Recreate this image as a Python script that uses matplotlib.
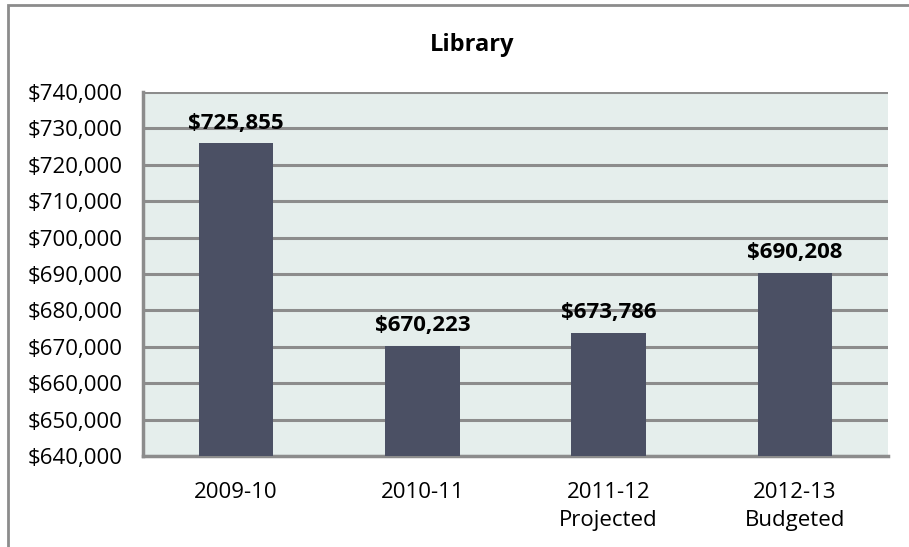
import matplotlib.pyplot as plt
from matplotlib.patches import Rectangle
from matplotlib.ticker import FuncFormatter

plt.rcParams['font.family'] = ['Open Sans', 'DejaVu Sans']

categories = ['2009-10', '2010-11', '2011-12\nProjected', '2012-13\nBudgeted']
values = [725855, 670223, 673786, 690208]
yticks = [640000, 650000, 660000, 670000, 680000, 690000, 700000, 710000, 720000, 730000, 740000]

W, H = 909, 547
fig = plt.figure(figsize=(W / 100, H / 100), dpi=100)
fig.patch.set_facecolor('white')

# outer chart border (cut off at right and bottom)
fig.patches.append(Rectangle((8 / W, -0.05), 1.2, (H - 5) / H + 0.05, transform=fig.transFigure,
                             fill=False, edgecolor='#8c8c8c', linewidth=2))

ax = fig.add_axes([143 / W, 1 - 456 / H, (888 - 143) / W, (456 - 92) / H])
ax.set_facecolor('#e5eeec')

x = range(len(values))
ax.bar(x, values, width=0.4, color='#4b5064', zorder=3)
for i, v in enumerate(values):
    ax.text(i, v + 2700, '${:,}'.format(v), ha='center', va='bottom',
            fontsize=16, fontweight='bold', zorder=4)

ax.set_xlim(-0.5, len(values) - 0.5)
ax.set_ylim(640000, 740000)
ax.set_yticks(yticks)
ax.yaxis.set_major_formatter(FuncFormatter(lambda v, p: '${:,.0f}'.format(v)))
ax.set_xticks(list(x))
ax.set_xticklabels(categories, fontsize=16, linespacing=1.4)
ax.tick_params(axis='y', labelsize=16, length=0, pad=15)
ax.tick_params(axis='x', length=0, pad=19)

ax.grid(axis='y', color='#8c8c8c', linewidth=2.2, zorder=1)
for s in ['top', 'right']:
    ax.spines[s].set_visible(False)
for s in ['left', 'bottom']:
    ax.spines[s].set_color('#8c8c8c')
    ax.spines[s].set_linewidth(2.5)

fig.text(472 / W, 1 - 45 / H, 'Library', ha='center', va='center', fontsize=17, fontweight='bold')

fig.savefig('out.png', dpi=100)
